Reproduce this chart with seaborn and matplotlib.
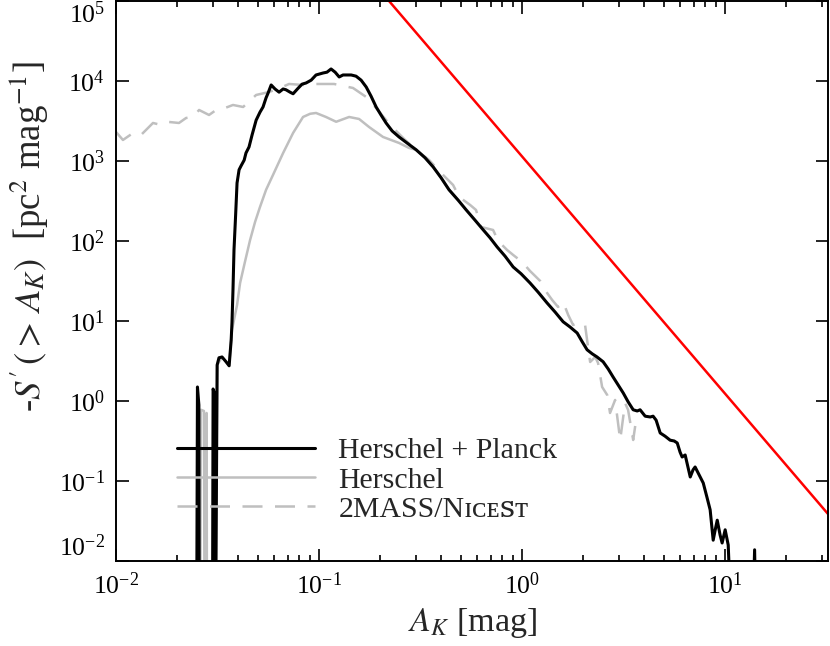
import numpy as np
import pandas as pd
import seaborn as sns
import matplotlib
matplotlib.use('Agg')
import matplotlib.pyplot as plt
from matplotlib.ticker import LogLocator, NullLocator

# values, stored as log10(A_K) and log10(-S')
# (-3 means the curve drops below the bottom of the plot)
hp_log_ak = [-1.603, -1.599, -1.592, -1.590, -1.525, -1.522, -1.517, -1.515,
             -1.510, -1.502, -1.493, -1.478, -1.458, -1.443, -1.433, -1.429,
             -1.424, -1.419, -1.411, -1.404, -1.394, -1.384, -1.369, -1.360,
             -1.345, -1.330, -1.310, -1.291, -1.276, -1.261, -1.251, -1.236,
             -1.217, -1.197, -1.177, -1.163, -1.143, -1.128, -1.103, -1.084,
             -1.064, -1.039, -1.015, -0.980, -0.961, -0.941, -0.921, -0.901,
             -0.882, -0.867, -0.842, -0.818, -0.793, -0.768, -0.744, -0.719,
             -0.695, -0.670, -0.640, -0.606, -0.567, -0.522, -0.478, -0.438,
             -0.399, -0.360, -0.315, -0.276, -0.232, -0.192, -0.158, -0.123,
             -0.084, -0.044, -0.005, 0.039, 0.079, 0.123, 0.163, 0.202,
             0.236, 0.271, 0.296, 0.320, 0.345, 0.369, 0.399, 0.424,
             0.448, 0.473, 0.498, 0.522, 0.547, 0.567, 0.581, 0.606,
             0.631, 0.645, 0.660, 0.680, 0.704, 0.729, 0.749, 0.764,
             0.778, 0.788, 0.803, 0.818, 0.828, 0.842, 0.852, 0.872,
             0.892, 0.911, 0.926, 0.941, 0.951, 0.961, 0.975, 0.985,
             1.000, 1.015, 1.034, 1.133, 1.145, 1.153]
hp_log_s = [-3, 0.175, -0.05, -3, -3, 0.15, 0.11, -3,
            -3, 0.45, 0.54, 0.55, 0.49, 0.44, 0.76, 0.975,
            1.39, 1.89, 2.325, 2.725, 2.89, 2.94, 3.01, 3.10,
            3.175, 3.325, 3.51, 3.61, 3.675, 3.79, 3.85, 3.95,
            3.90, 3.86, 3.90, 3.89, 3.86, 3.84, 3.91, 3.96,
            3.975, 4.01, 4.075, 4.10, 4.11, 4.15, 4.11, 4.05,
            4.075, 4.075, 4.075, 4.06, 4.01, 3.925, 3.81, 3.675,
            3.575, 3.475, 3.375, 3.30, 3.225, 3.14, 3.04, 2.925,
            2.79, 2.64, 2.51, 2.39, 2.26, 2.14, 2.04, 1.925,
            1.81, 1.675, 1.59, 1.475, 1.36, 1.225, 1.11, 0.99,
            0.925, 0.85, 0.74, 0.64, 0.59, 0.55, 0.49, 0.40,
            0.30, 0.20, 0.10, -0.01, -0.11, -0.125, -0.11, -0.19,
            -0.20, -0.19, -0.24, -0.40, -0.44, -0.49, -0.50, -0.525,
            -0.64, -0.70, -0.675, -0.84, -0.95, -0.86, -0.825, -0.925,
            -1.025, -1.21, -1.36, -1.74, -1.61, -1.49, -1.675, -1.775,
            -1.61, -1.80, -3, -3, -1.86, -3]

h_log_ak = [-1.585, -1.582, -1.567, -1.564, -1.556, -1.554, -1.552,
            -1.510, -1.502, -1.478, -1.443, -1.433, -1.429, -1.404, -1.389,
            -1.365, -1.340, -1.315, -1.291, -1.261, -1.227, -1.177, -1.128,
            -1.079, -1.044, -1.015, -0.966, -0.916, -0.852, -0.803, -0.754,
            -0.685, -0.606, -0.557, -0.522, -0.478, -0.438, -0.399, -0.360,
            -0.315]
h_log_s = [-3, -0.11, -0.125, -3, -3, -0.15, -3,
           -3, 0.45, 0.55, 0.44, 0.76, 0.8875, 1.20, 1.475,
           1.74, 2.01, 2.24, 2.425, 2.64, 2.825, 3.10, 3.35,
           3.55, 3.59, 3.60, 3.55, 3.49, 3.55, 3.525, 3.425,
           3.30, 3.225, 3.1625, 3.14, 3.04, 2.925, 2.79, 2.64,
           2.51]

nic_log_ak = [-2.000, -1.966, -1.916, -1.877, -1.818, -1.778, -1.739, -1.690,
              -1.655, -1.621, -1.591, -1.542, -1.507, -1.463, -1.424, -1.374,
              -1.310, -1.246, -1.192, -1.148, -1.079, -1.015, -0.926, -0.833,
              -0.768, -0.719, -0.650, -0.576, -0.522, -0.458, -0.409, -0.340,
              -0.310, -0.256, -0.227, -0.202, -0.143, -0.118, -0.074, -0.044,
              0.000, 0.039, 0.089, 0.123, 0.148, 0.177, 0.202, 0.227,
              0.251, 0.286, 0.310, 0.320, 0.335, 0.360, 0.374, 0.394,
              0.419, 0.433, 0.458, 0.483, 0.507, 0.522, 0.547, 0.557]
nic_log_s = [3.3625, 3.2625, 3.35, 3.325, 3.475, 3.45, 3.4875, 3.475,
             3.5375, 3.55, 3.6375, 3.575, 3.6375, 3.6625, 3.70, 3.675,
             3.825, 3.8625, 3.9125, 3.9625, 3.95, 3.9625, 3.9625, 3.9125,
             3.80, 3.6625, 3.45, 3.2625, 3.1375, 3.0125, 2.875, 2.70,
             2.55, 2.45, 2.3875, 2.175, 2.1375, 2.0, 1.8875, 1.825,
             1.7375, 1.625, 1.50, 1.35, 1.2625, 1.175, 1.2375, 1.075,
             0.95, 0.9875, 0.95, 0.7625, 0.4875, 0.55, 0.475, 0.175,
             0.075, -0.15, 0.0125, -0.4875, -0.025, -0.1125, -0.4875, -0.3125]

# power-law reference line (two end points)
ref_ak = [0.221, 32.1]
ref_s = [1.0e5, 0.0387]

labels = ['Herschel + Planck', 'Herschel', '2MASS/N\u026a\u1d04\u1d07\ua731\u1d1b']

sns.set_style('ticks')
plt.rcParams['font.family'] = ['Liberation Serif', 'DejaVu Serif', 'DejaVu Sans']
plt.rcParams['mathtext.fontset'] = 'stix'
plt.rcParams['axes.linewidth'] = 1.4

fig = plt.figure(figsize=(8.3, 6.46), dpi=100)
ax = fig.add_axes([0.1398, 0.1316, 0.8578, 0.8669])

hp = pd.DataFrame({'ak': 10 ** np.array(hp_log_ak), 's': 10 ** np.array(hp_log_s)})
h = pd.DataFrame({'ak': 10 ** np.array(h_log_ak), 's': 10 ** np.array(h_log_s)})
nic = pd.DataFrame({'ak': 10 ** np.array(nic_log_ak), 's': 10 ** np.array(nic_log_s)})

sns.lineplot(data=nic, x='ak', y='s', ax=ax, sort=False, estimator=None,
             color='#bfbfbf', lw=1.8, ls=(0, (8, 5)), label=labels[2])
sns.lineplot(data=h, x='ak', y='s', ax=ax, sort=False, estimator=None,
             color='#bfbfbf', lw=1.8, label=labels[1])
sns.lineplot(data=hp, x='ak', y='s', ax=ax, sort=False, estimator=None,
             color='black', lw=2.2, label=labels[0])
sns.lineplot(x=ref_ak, y=ref_s, ax=ax, sort=False, estimator=None,
             color='red', lw=1.8)

ax.set_xscale('log')
ax.set_yscale('log')
ax.set_xlim(0.01, 32.1)
ax.set_ylim(0.01, 1e5)

ax.xaxis.set_major_locator(LogLocator(base=10, numticks=10))
ax.xaxis.set_minor_locator(LogLocator(base=10, subs=np.arange(2, 10), numticks=20))
ax.yaxis.set_major_locator(LogLocator(base=10, numticks=10))
ax.yaxis.set_minor_locator(NullLocator())
ax.tick_params(which='both', direction='in', top=True, right=True,
               width=1.2, labelsize=18.5, colors='black')
ax.tick_params(which='major', length=9, pad=8)
ax.tick_params(which='minor', length=4.5)
for sp in ax.spines.values():
    sp.set_visible(True)
    sp.set_color('black')

ax.set_xlabel(r'$A_K$ [mag]', fontsize=24.5, labelpad=5)
ax.set_ylabel(r'-$S^{\prime}\,(>\,A_K)$  [pc$^2$ mag$^{-1}$]', fontsize=26.5)
ax.yaxis.set_label_coords(-0.093, 0.58)

handles, labs = ax.get_legend_handles_labels()
order = [labs.index(l) for l in labels]
ax.legend([handles[i] for i in order], [labs[i] for i in order],
          loc='lower left', bbox_to_anchor=(0.085, 0.068), frameon=False,
          fontsize=21.5, handlelength=4.65, handletextpad=0.77,
          labelspacing=0.08, borderpad=0, borderaxespad=0)

# keep the end labels of the y axis inside the figure, as in the reference
fig.canvas.draw()
for tick in ax.yaxis.get_major_ticks():
    if np.isclose(tick.get_loc(), 1e5):
        tick.label1.set_verticalalignment('top')
    elif np.isclose(tick.get_loc(), 1e-2):
        tick.label1.set_verticalalignment('bottom')

fig.savefig('out.png', dpi=100)
